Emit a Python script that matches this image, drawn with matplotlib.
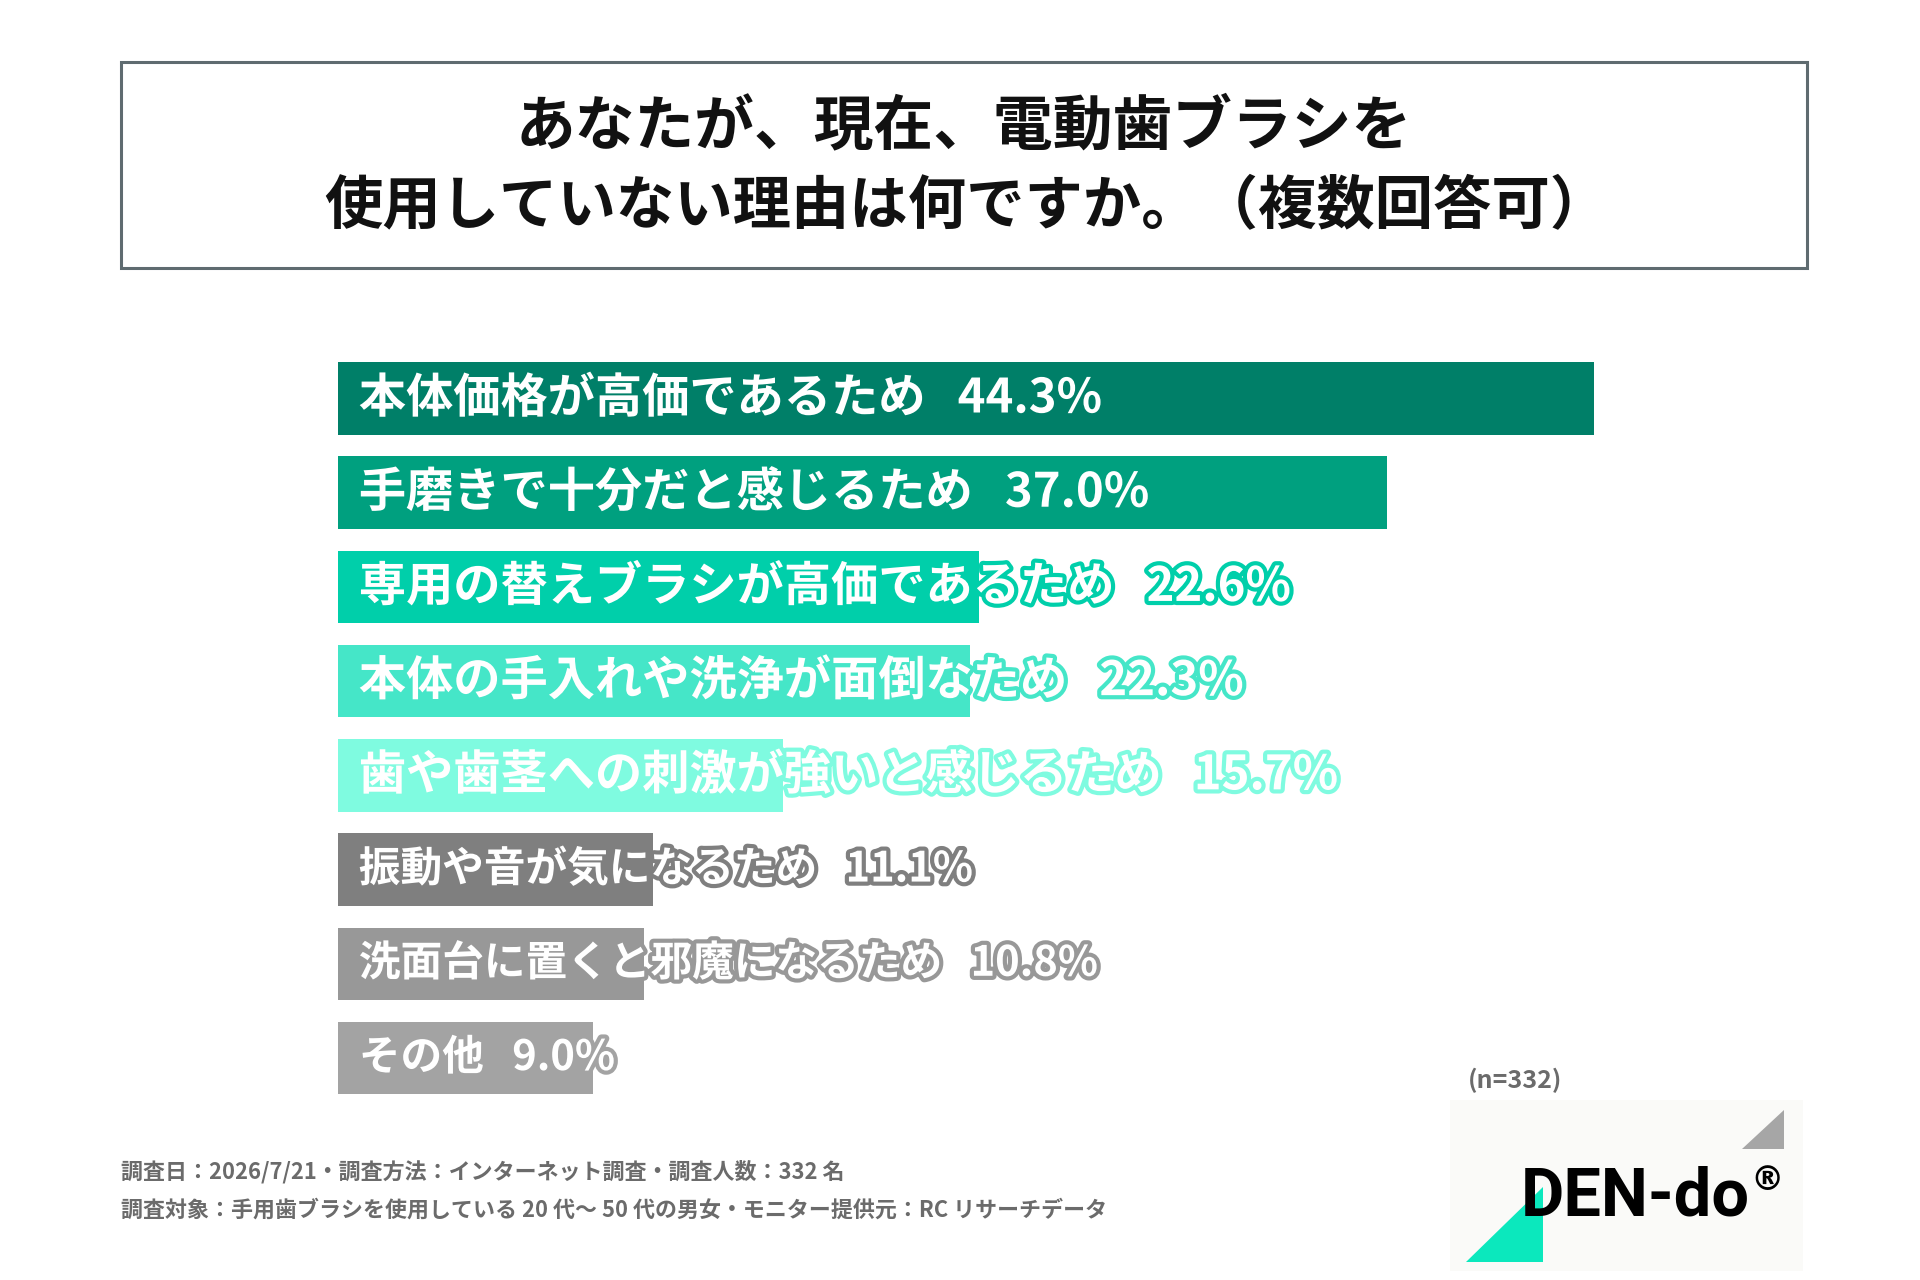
import matplotlib.pyplot as plt
import matplotlib.patheffects as pe
from matplotlib.patches import Rectangle, Polygon

plt.rcParams['font.family'] = ['Noto Sans CJK JP', 'DejaVu Sans']

# データ
categories = [
    '本体価格が高価であるため',
    '手磨きで十分だと感じるため',
    '専用の替えブラシが高価であるため',
    '本体の手入れや洗浄が面倒なため',
    '歯や歯茎への刺激が強いと感じるため',
    '振動や音が気になるため',
    '洗面台に置くと邪魔になるため',
    'その他',
]
values = [44.3, 37.0, 22.6, 22.3, 15.7, 11.1, 10.8, 9.0]
bar_colors = ['#007f68', '#00a07f', '#00cfaa', '#45e6c8', '#7ffbe0',
              '#7f7f7f', '#989898', '#a3a3a3']
label_sizes = [34, 34, 34, 34, 34, 30, 30, 30]

title_lines = ['あなたが、現在、電動歯ブラシを',
               '使用していない理由は何ですか。（複数回答可）']
note1 = '調査日：2026/7/21・調査方法：インターネット調査・調査人数：332 名'
note2 = '調査対象：手用歯ブラシを使用している 20 代～ 50 代の男女・モニター提供元：RC リサーチデータ'
n_text = '(n=332)'

W, H = 1920, 1280
fig = plt.figure(figsize=(W / 100, H / 100), dpi=100)
fig.patch.set_facecolor('white')

# 背景用（ピクセル座標）
bg = fig.add_axes([0, 0, 1, 1])
bg.set_xlim(0, W)
bg.set_ylim(H, 0)
bg.axis('off')

# タイトル枠
bg.add_patch(Rectangle((121, 62), 1686, 206, fill=False,
                       edgecolor='#5f6b70', linewidth=2.2))
bg.text(964, 127, title_lines[0], ha='center', va='center',
        fontsize=43, fontweight='bold', color='#111111')
bg.text(966, 206, title_lines[1], ha='center', va='center',
        fontsize=42, fontweight='bold', color='#111111')

# 棒グラフ
x0, px_per = 338, 1256 / 44.3
ax = fig.add_axes([x0 / W, 1 - 1105.1 / H, (px_per * 60) / W, 753.7 / H])
ax.set_xlim(0, 60)
ax.set_ylim(len(values) - 0.5, -0.5)
ax.axis('off')

ypos = list(range(len(values)))
ax.barh(ypos, values, height=0.77, color=bar_colors)
for i, (cat, v) in enumerate(zip(categories, values)):
    ax.annotate(f'{cat}   {v:.1f}%', xy=(0, i), xytext=(15, 0),
                textcoords='offset points', ha='left', va='center',
                fontsize=label_sizes[i], fontweight='bold', color='white',
                path_effects=[pe.withStroke(linewidth=6, foreground=bar_colors[i])])

# 注記
bg.text(121, 1172, note1, ha='left', va='center', fontsize=15.8,
        fontweight='bold', color='#6b6b6b')
bg.text(121, 1210, note2, ha='left', va='center', fontsize=15.8,
        fontweight='bold', color='#6b6b6b')
bg.text(1468, 1080, n_text, ha='left', va='center', fontsize=18,
        fontweight='bold', color='#6b6b6b')

# ロゴ
bg.add_patch(Rectangle((1450, 1100), 353, 171, facecolor='#fafaf8',
                       edgecolor='none'))
bg.add_patch(Polygon([(1742, 1149), (1784, 1110), (1784, 1149)],
                     closed=True, facecolor='#a6a6a6', edgecolor='none'))
bg.add_patch(Polygon([(1466, 1262), (1543, 1187), (1543, 1262)],
                     closed=True, facecolor='#0be8bd', edgecolor='none'))
bg.text(1521, 1215, 'DEN-do', ha='left', va='baseline', fontsize=48,
        fontweight='bold', family='Roboto', color='black', zorder=5)
bg.text(1750, 1190, '®', ha='left', va='baseline', fontsize=24,
        fontweight='bold', family='DejaVu Sans', color='black', zorder=5)

plt.savefig('out.png', dpi=100)
